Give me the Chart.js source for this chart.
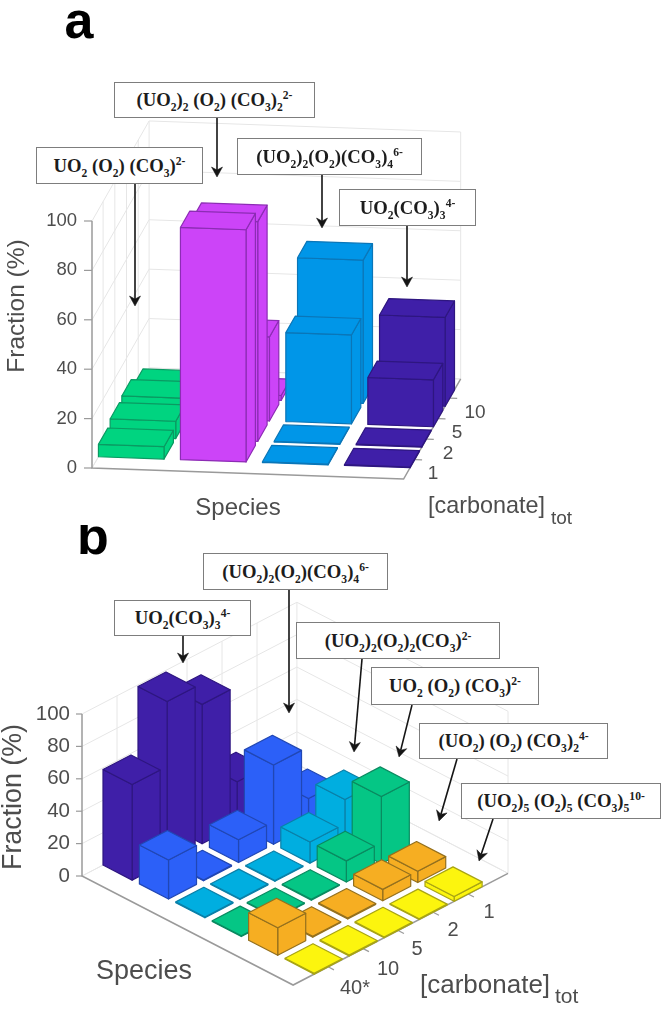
<!DOCTYPE html>
<html>
<head>
<meta charset="utf-8">
<script src="https://cdn.jsdelivr.net/npm/chart.js@4"></script>
<style>
  html, body { margin: 0; padding: 0; background: #fff; overflow: hidden; }
  #page { position: relative; width: 670px; height: 1012px; }
  canvas { position: absolute; left: 0; }
  .callout {
    position: absolute; box-sizing: border-box; background: #fff;
    border: 1.5px solid #7d7d7d; display: flex; align-items: center; justify-content: center;
    font: bold 18.7px "Liberation Serif", serif; color: #1c1c1c; white-space: pre;
  }
  .callout sub, .callout sup { font-size: 62%; line-height: 0; }
</style>
</head>
<body>
<div id="page">
  <canvas id="chartA" width="670" height="525" style="top:0"></canvas>
  <canvas id="chartB" width="670" height="487" style="top:525px"></canvas>
</div>
<script>
// Panel a - carbonate rows run front to back
const carbonateA = ["1", "2", "5", "10"];
const peroxoMonoA = [5, 7, 8, 4];
const peroxoDimerA = [94, 89, 34, 2];
const peroxoTetraA = [0.3, 0.3, 36, 58];
const tricarbonateA = [0.3, 0.3, 19, 36];

// Panel b - carbonate rows run back to front
const carbonateB = ["1", "2", "5", "10", "40*"];
const tricarbonateB = [0.5, 27, 86, 99, 59];
const peroxoTetraB = [17, 49, 14, 0.5, 24];
const peroxoDiB = [28, 13, 0.5, 0.5, 0.5];
const peroxoMonoB = [41.5, 13, 0.5, 0.5, 0.5];
const peroxoBisB = [7, 7, 0.5, 0.5, 17];
const pentamerB = [3, 0.5, 0.5, 0.5, 0.5];

const fractionTicks = [0, 20, 40, 60, 80, 100];

// Bar colours, [face, edge]
const colorsA = [["#00d480", "#0a9a62"], ["#cc44f8", "#8c2cb4"], ["#0096e8", "#0a76b8"], ["#3f1fa8", "#2e1680"]];
const colorsB = [["#3f1fa8", "#2e1680"], ["#2c60f8", "#2147b4"], ["#00aee0", "#0a80a8"], ["#05c685", "#0a8a60"], ["#f6ae22", "#94701e"], ["#fcf50e", "#a8a414"]];

// Orthographic projection of each 3D box: origin, one cell along u, one cell along v, px per %
const viewA = { o: [92, 468], u: [82, 2.9], v: [11.7, -20.5], z: -2.47, uMax: 3.8, vMax: 4.88, rowV: (j) => 0.95 + j, tick: 8, uTick: 0.09 };
const viewB = { o: [82, 876], u: [36.4, 18.8], v: [35, -18.2], z: -1.62, uMax: 5.8, vMax: 6.14, rowV: (j) => 5 - j, tick: 6, uTick: 0.16 };

function project(view, u, v, z) {
  return {
    x: view.o[0] + u * view.u[0] + v * view.v[0],
    y: view.o[1] + u * view.u[1] + v * view.v[1] + z * view.z,
  };
}

function lineSet(points, color, width) {
  return { data: points, showLine: true, fill: false, borderColor: color, borderWidth: width, pointRadius: 0, tension: 0 };
}

function polySet(points, face, edge, width) {
  return {
    data: points.concat([points[0]]), showLine: true, fill: "shape",
    backgroundColor: face, borderColor: edge, borderWidth: width,
    borderJoinStyle: "round", pointRadius: 0, tension: 0,
  };
}

function frameSets(view, rows) {
  const P = (u, v, z) => project(view, u, v, z);
  const sets = [];
  const grid = "#e6e6e6";
  fractionTicks.forEach((t) => {
    sets.push(lineSet([P(0, 0, t), P(0, view.vMax, t), P(view.uMax, view.vMax, t)], grid, 1));
  });
  rows.forEach((r, j) => {
    const v = view.rowV(j);
    sets.push(lineSet([P(0, v, 0), P(0, v, 100)], grid, 1));
  });
  sets.push(lineSet([P(0, view.vMax, 0), P(0, view.vMax, 100)], grid, 1));
  sets.push(lineSet([P(0, 0, 0), P(0, view.vMax, 0), P(view.uMax, view.vMax, 0), P(view.uMax, view.vMax, 100)], grid, 1));
  // axis lines and ticks
  sets.push(lineSet([P(0, 0, 100), P(0, 0, 0), P(view.uMax, 0, 0), P(view.uMax, view.vMax, 0)], "#9a9a9a", 1.5));
  fractionTicks.forEach((t) => {
    const p = P(0, 0, t);
    sets.push(lineSet([{ x: p.x - view.tick, y: p.y }, p], "#9a9a9a", 1.2));
  });
  rows.forEach((r, j) => {
    const v = view.rowV(j);
    sets.push(lineSet([P(view.uMax, v, 0), P(view.uMax + view.uTick, v, 0)], "#9a9a9a", 1.2));
  });
  return sets;
}

function barSets(view, series, colors) {
  const P = (u, v, z) => project(view, u, v, z);
  const rowCount = series[0].length;
  const order = [];
  for (let j = 0; j < rowCount; j++) order.push(j);
  order.sort((a, b) => view.rowV(b) - view.rowV(a)); // far rows first
  const sets = [];
  order.forEach((j) => {
    series.forEach((vals, i) => {
      const h = vals[j];
      const c = colors[i];
      const u0 = i, u1 = i + 0.8;
      const v0 = view.rowV(j) - 0.4, v1 = view.rowV(j) + 0.4;
      sets.push(polySet([P(u1, v0, 0), P(u1, v1, 0), P(u1, v1, h), P(u1, v0, h)], c[0], c[1], 1.2));
      sets.push(polySet([P(u0, v0, 0), P(u1, v0, 0), P(u1, v0, h), P(u0, v0, h)], c[0], c[1], 1.2));
      sets.push(polySet([P(u0, v0, h), P(u1, v0, h), P(u1, v1, h), P(u0, v1, h)], c[0], c[1], 1.2));
    });
  });
  return sets;
}

function arrowSets(arrows) {
  const sets = [];
  arrows.forEach((a) => {
    const dx = a[2] - a[0], dy = a[3] - a[1];
    const len = Math.hypot(dx, dy);
    const ux = dx / len, uy = dy / len;
    const back = 10, notch = 7, half = 5.5;
    const tip = { x: a[2], y: a[3] };
    sets.push(lineSet([{ x: a[0], y: a[1] }, { x: a[2] - ux * notch, y: a[3] - uy * notch }], "#151515", 1.6));
    sets.push(polySet([
      tip,
      { x: a[2] - ux * back - uy * half, y: a[3] - uy * back + ux * half },
      { x: a[2] - ux * notch, y: a[3] - uy * notch },
      { x: a[2] - ux * back + uy * half, y: a[3] - uy * back - ux * half },
    ], "#151515", "#151515", 0.5));
  });
  return sets;
}

// Text on the canvas, placed through the chart's scales
const textPlugin = {
  id: "panelText",
  afterDraw(chart, args, opts) {
    const { ctx, scales } = chart;
    ctx.save();
    opts.items.forEach((t) => {
      ctx.save();
      ctx.translate(scales.x.getPixelForValue(t.x), scales.y.getPixelForValue(t.y));
      if (t.rot) ctx.rotate(t.rot);
      ctx.font = t.font;
      ctx.fillStyle = t.color || "#4d4d4d";
      ctx.textAlign = t.align || "center";
      ctx.textBaseline = t.base || "middle";
      ctx.fillText(t.text, 0, 0);
      ctx.restore();
    });
    ctx.restore();
  },
};

function drawPanel(id, yMin, yMax, sets, items) {
  sets.forEach((s, i) => { s.order = -i; }); // later sets paint on top
  new Chart(document.getElementById(id).getContext("2d"), {
    type: "scatter",
    data: { datasets: sets },
    options: {
      responsive: false,
      animation: false,
      events: [],
      layout: { padding: 0 },
      scales: {
        x: { type: "linear", min: 0, max: 670, display: false },
        y: { type: "linear", min: yMin, max: yMax, reverse: true, display: false },
      },
      plugins: { legend: { display: false }, tooltip: { enabled: false }, panelText: { items: items } },
    },
    plugins: [textPlugin],
  });
}

function zTickItems(view, font, gap) {
  return fractionTicks.map((t) => {
    const p = project(view, 0, 0, t);
    return { text: String(t), x: p.x - gap, y: p.y, font: font, align: "right" };
  });
}

const sans = '"Liberation Sans", Arial, sans-serif';

const arrowsA = [[217, 118, 217, 177], [135, 184, 135, 306], [322, 175, 322, 228], [407, 226, 407, 287]];
const arrowsB = [[289, 590, 289, 713], [183, 636, 183, 663], [362, 659, 354, 752], [412, 705, 399, 757], [457, 759, 439, 821], [493, 819, 479, 861]];

drawPanel(
  "chartA", 0, 525,
  frameSets(viewA, carbonateA)
    .concat(barSets(viewA, [peroxoMonoA, peroxoDimerA, peroxoTetraA, tricarbonateA], colorsA))
    .concat(arrowSets(arrowsA)),
  zTickItems(viewA, "18.5px " + sans, 15).concat([
    { text: "a", x: 79, y: 24, font: "bold 52px " + sans, color: "#000" },
    { text: "Fraction (%)", x: 17, y: 306, rot: -Math.PI / 2, font: "24.5px " + sans },
    { text: "Species", x: 238, y: 508, font: "24px " + sans },
    { text: "[carbonate]", x: 428, y: 513, align: "left", base: "alphabetic", font: "23.4px " + sans },
    { text: "tot", x: 551, y: 524, align: "left", base: "alphabetic", font: "19px " + sans },
    { text: carbonateA[0], x: 433, y: 474, font: "19px " + sans },
    { text: carbonateA[1], x: 448, y: 454, font: "19px " + sans },
    { text: carbonateA[2], x: 457, y: 433, font: "19px " + sans },
    { text: carbonateA[3], x: 475, y: 413, font: "19px " + sans },
  ])
);

drawPanel(
  "chartB", 525, 1012,
  frameSets(viewB, carbonateB)
    .concat(barSets(viewB, [tricarbonateB, peroxoTetraB, peroxoDiB, peroxoMonoB, peroxoBisB, pentamerB], colorsB))
    .concat(arrowSets(arrowsB)),
  zTickItems(viewB, "20.5px " + sans, 12).concat([
    { text: "b", x: 93, y: 540, font: "bold 52px " + sans, color: "#000" },
    { text: "Fraction (%)", x: 14, y: 797, rot: -Math.PI / 2, font: "26.8px " + sans },
    { text: "Species", x: 144, y: 972, font: "27px " + sans },
    { text: "[carbonate]", x: 420, y: 993, align: "left", base: "alphabetic", font: "26px " + sans },
    { text: "tot", x: 555, y: 1003, align: "left", base: "alphabetic", font: "21px " + sans },
    { text: carbonateB[0], x: 489, y: 912, font: "20px " + sans },
    { text: carbonateB[1], x: 453, y: 930, font: "20px " + sans },
    { text: carbonateB[2], x: 417, y: 949, font: "20px " + sans },
    { text: carbonateB[3], x: 388, y: 969, font: "20px " + sans },
    { text: carbonateB[4], x: 355, y: 988, font: "20px " + sans },
  ])
);

// Species callouts
const callouts = [
  [114, 82, 201, 36, "(UO<sub>2</sub>)<sub>2</sub> (O<sub>2</sub>) (CO<sub>3</sub>)<sub>2</sub><sup>2-</sup>"],
  [36, 147, 167, 37, "UO<sub>2</sub> (O<sub>2</sub>) (CO<sub>3</sub>)<sup>2-</sup>"],
  [237, 138, 185, 37, "(UO<sub>2</sub>)<sub>2</sub>(O<sub>2</sub>)(CO<sub>3</sub>)<sub>4</sub><sup>6-</sup>"],
  [339, 189, 137, 37, "UO<sub>2</sub>(CO<sub>3</sub>)<sub>3</sub><sup>4-</sup>"],
  [203, 553, 185, 37, "(UO<sub>2</sub>)<sub>2</sub>(O<sub>2</sub>)(CO<sub>3</sub>)<sub>4</sub><sup>6-</sup>"],
  [114, 600, 137, 36, "UO<sub>2</sub>(CO<sub>3</sub>)<sub>3</sub><sup>4-</sup>"],
  [296, 622, 204, 37, "(UO<sub>2</sub>)<sub>2</sub>(O<sub>2</sub>)<sub>2</sub>(CO<sub>3</sub>)<sup>2-</sup>"],
  [371, 667, 168, 38, "UO<sub>2</sub> (O<sub>2</sub>) (CO<sub>3</sub>)<sup>2-</sup>"],
  [419, 723, 189, 36, "(UO<sub>2</sub>) (O<sub>2</sub>) (CO<sub>3</sub>)<sub>2</sub><sup>4-</sup>"],
  [461, 783, 200, 36, "(UO<sub>2</sub>)<sub>5</sub> (O<sub>2</sub>)<sub>5</sub> (CO<sub>3</sub>)<sub>5</sub><sup>10-</sup>"],
];
callouts.forEach((c) => {
  const box = document.createElement("div");
  box.className = "callout";
  box.style.cssText = `left:${c[0]}px;top:${c[1]}px;width:${c[2]}px;height:${c[3]}px`;
  box.innerHTML = "<span>" + c[4] + "</span>";
  document.getElementById("page").appendChild(box);
});
</script>
</body>
</html>
